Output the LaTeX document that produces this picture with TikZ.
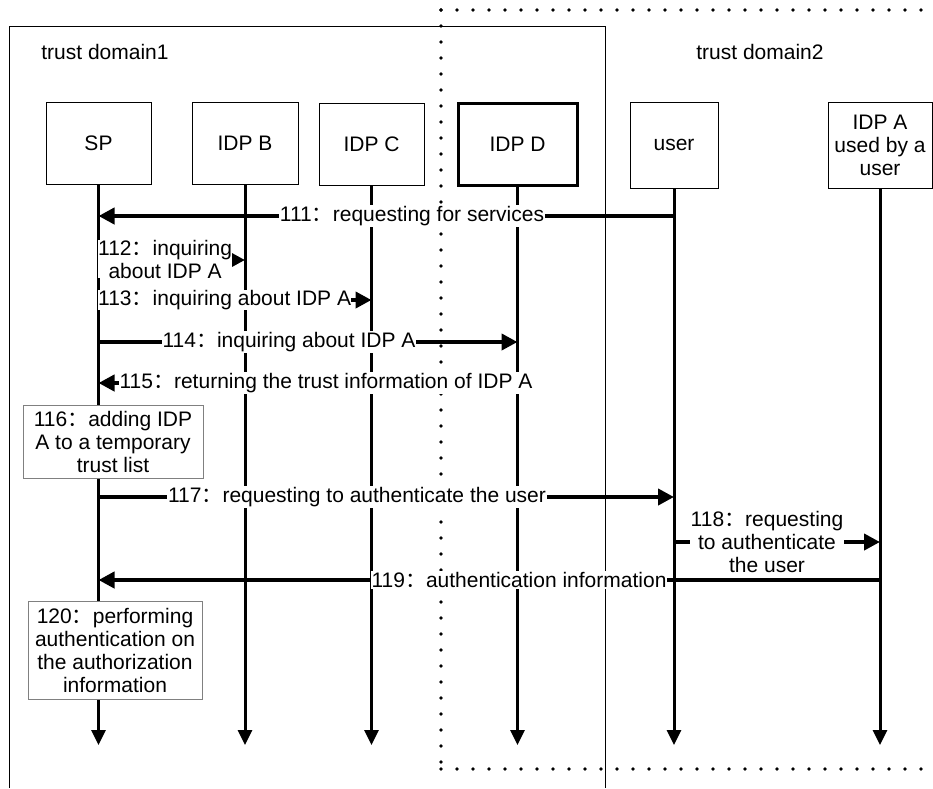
\documentclass[tikz,border=0pt]{standalone}
\usepackage{fontspec}
\setmainfont{Liberation Sans}
\newfontfamily\cjk{Noto Sans CJK SC}
\newcommand{\zc}{{\cjk ：}}
\usetikzlibrary{arrows.meta}

\begin{document}
\begin{tikzpicture}[x=1pt, y=-1pt,
  every node/.style={font=\fontsize{21}{23}\selectfont},
  entity/.style={draw, line width=1pt, minimum height=82pt, align=center, inner sep=2pt},
  lifeline/.style={line width=3pt, -{Triangle[length=15pt,width=14pt]}},
  msg/.style={line width=4pt, -{Triangle[length=16pt,width=16pt]}},
  lbl/.style={fill=white, inner sep=1pt, align=center},
  note/.style={draw=gray, fill=white, line width=0.8pt, align=center, inner sep=2pt},
  dots/.style={line width=3.8pt, line cap=round, dash pattern=on 0pt off 16pt}]
\useasboundingbox (0,0) rectangle (933,788);

% Trust domains
\draw[line width=1pt] (9,788) -- (9,26) -- (605,26) -- (605,788);
\draw[dots] (441,10) -- (933,10);
\draw[dots] (441,10) -- (441,769);
\draw[dots] (441,769) -- (933,769);
\node (dom1) at (105,52) {trust domain1};
\node (dom2) at (760,52) {trust domain2};

% Entities
\node[entity, minimum width=105pt] (sp) at (98.5,143) {SP};
\node[entity, minimum width=106pt] (idpb) at (245,143) {IDP B};
\node[entity, minimum width=105pt] (idpc) at (371.5,144) {IDP C};
\node[entity, minimum width=119pt, line width=3pt] (idpd) at (517.5,144) {IDP D};
\node[entity, minimum width=88pt, minimum height=86pt] (user) at (674,145) {user};
\node[entity, minimum width=104pt, minimum height=86pt] (idpa) at (880,145) {IDP A\\used by a\\user};

% Lifelines
\coordinate (bot) at (0,745);
\foreach \n in {sp,idpb,idpc,idpd,user,idpa}
  \draw[lifeline] (\n.south) -- (\n |- bot);

% Message rows
\coordinate (r111) at (0,216);
\coordinate (r112) at (0,260);
\coordinate (r113) at (0,300);
\coordinate (r114) at (0,342);
\coordinate (r115) at (0,383);
\coordinate (r117) at (0,497);
\coordinate (r118) at (0,542);
\coordinate (r119) at (0,580);

% Messages
\draw[msg] (user |- r111) -- (sp |- r111);
\draw[msg] (sp |- r112) -- (idpb |- r112);
\draw[msg] (sp |- r113) -- (idpc |- r113);
\draw[msg] (sp |- r114) -- (idpd |- r114);
\draw[msg] (idpd |- r115) -- (sp |- r115);
\draw[msg] (sp |- r117) -- (user |- r117);
\draw[msg] (user |- r118) -- (idpa |- r118);
\draw[msg] (idpa |- r119) -- (sp |- r119);

% Labels
\node[lbl] (l111) at (412,216) {111\zc requesting for services};
\node[lbl, anchor=west, inner sep=0pt] (l112) at (98,259) {112\zc inquiring\\about IDP A};
\node[lbl, anchor=west, inner sep=0pt] (l113) at (98,300) {113\zc inquiring about IDP A};
\node[lbl] (l114) at (289,342) {114\zc inquiring about IDP A};
\node[lbl] (l115) at (326,383) {115\zc returning the trust information of IDP A};
\node[note, minimum width=180pt, minimum height=73pt] (n116) at (113,441.5)
  {116\zc adding IDP\\A to a temporary\\trust list};
\node[lbl] (l117) at (357,497) {117\zc requesting to authenticate the user};
\node[lbl] (l118) at (767,542) {118\zc requesting\\to authenticate\\the user};
\node[lbl] (l119) at (519,580) {119\zc authentication information};
\node[note, minimum width=174pt, minimum height=98pt] (n120) at (115,650)
  {120\zc performing\\authentication on\\the authorization\\information};
\end{tikzpicture}
\end{document}
